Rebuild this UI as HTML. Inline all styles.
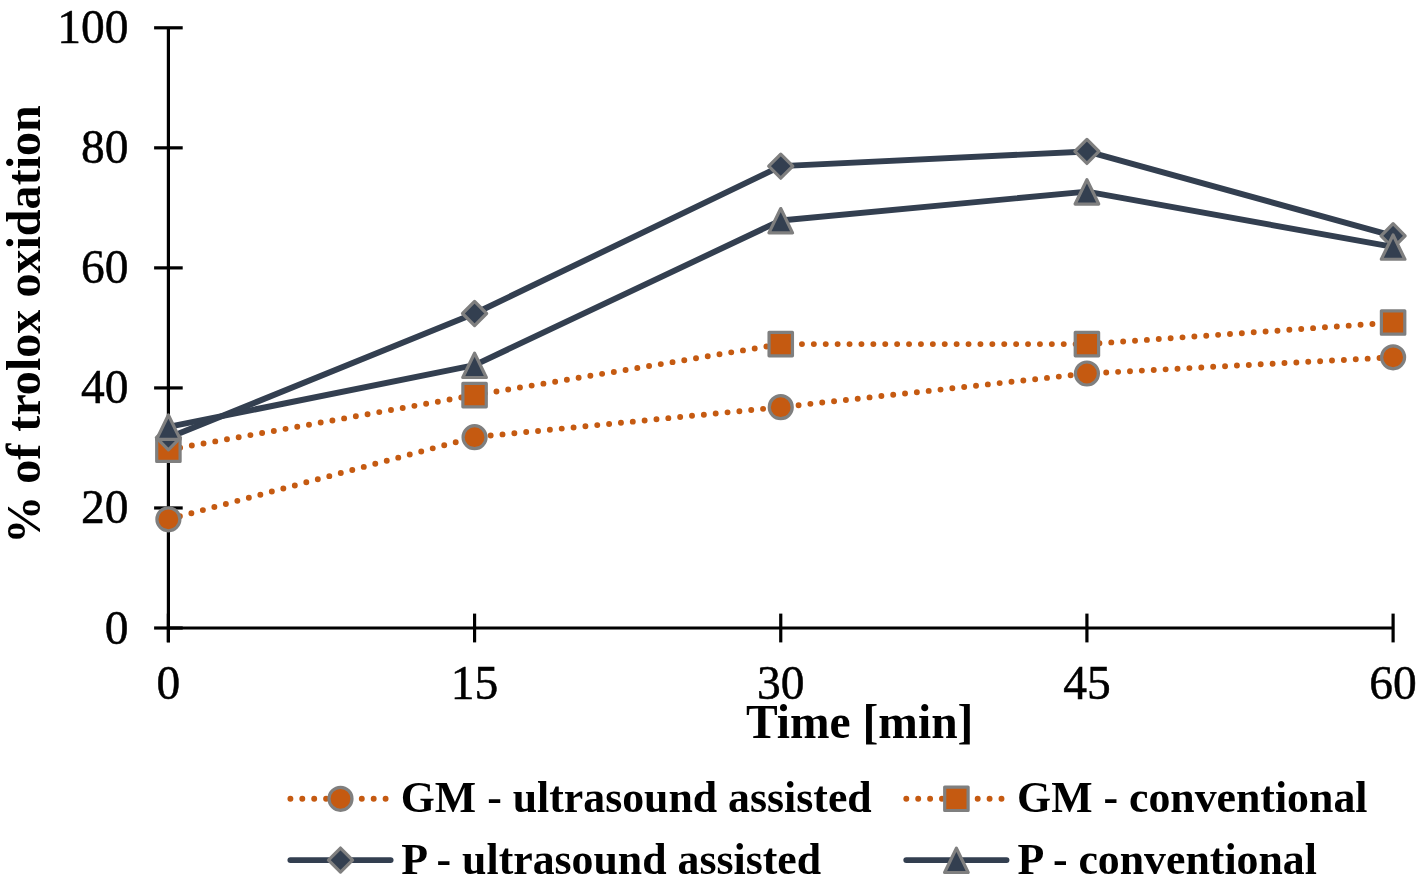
<!DOCTYPE html>
<html><head><meta charset="utf-8"><style>
html,body{margin:0;padding:0;background:#fff;}
body{width:1419px;height:887px;overflow:hidden;font-family:"Liberation Serif",serif;}
svg{display:block;will-change:transform;}
</style></head><body>
<svg width="1419" height="887" viewBox="0 0 1419 887">
<rect width="1419" height="887" fill="#fff"/>
<g stroke="#000" stroke-width="3.2" fill="none">
<line x1="168.40" y1="27.80" x2="168.40" y2="642.30"/>
<line x1="168.40" y1="628.00" x2="1393.10" y2="628.00"/>
<line x1="154.10" y1="628.00" x2="182.70" y2="628.00"/>
<line x1="154.10" y1="507.96" x2="182.70" y2="507.96"/>
<line x1="154.10" y1="387.92" x2="182.70" y2="387.92"/>
<line x1="154.10" y1="267.88" x2="182.70" y2="267.88"/>
<line x1="154.10" y1="147.84" x2="182.70" y2="147.84"/>
<line x1="154.10" y1="27.80" x2="182.70" y2="27.80"/>
<line x1="168.40" y1="613.60" x2="168.40" y2="642.40"/>
<line x1="474.57" y1="613.60" x2="474.57" y2="642.40"/>
<line x1="780.75" y1="613.60" x2="780.75" y2="642.40"/>
<line x1="1086.92" y1="613.60" x2="1086.92" y2="642.40"/>
<line x1="1393.10" y1="613.60" x2="1393.10" y2="642.40"/>
</g>
<g font-family="Liberation Serif" font-size="47.5" fill="#000">
<g stroke="#000" stroke-width="0.5">
<text x="128.5" y="643.50" text-anchor="end">0</text>
<text x="128.5" y="523.46" text-anchor="end">20</text>
<text x="128.5" y="403.42" text-anchor="end">40</text>
<text x="128.5" y="283.38" text-anchor="end">60</text>
<text x="128.5" y="163.34" text-anchor="end">80</text>
<text x="128.5" y="43.30" text-anchor="end">100</text>
<text x="168.40" y="699" text-anchor="middle">0</text>
<text x="474.57" y="699" text-anchor="middle">15</text>
<text x="780.75" y="699" text-anchor="middle">30</text>
<text x="1086.92" y="699" text-anchor="middle">45</text>
<text x="1393.10" y="699" text-anchor="middle">60</text>
</g>
<text x="746" y="738" font-weight="bold">Time [min]</text>
<text transform="translate(40,324.5) rotate(-90)" text-anchor="middle" font-weight="bold" font-size="48.1">% of trolox oxidation</text>
</g>
<polyline points="168.40,519.36 474.57,437.14 780.75,407.13 1086.92,373.52 1393.10,357.31" fill="none" stroke="#C55A11" stroke-width="5.93" stroke-linecap="round" stroke-dasharray="0 11.9"/>
<circle cx="168.40" cy="519.36" r="11.5" fill="#C55A11" stroke="#7F7F7F" stroke-width="3.2"/>
<circle cx="474.57" cy="437.14" r="11.5" fill="#C55A11" stroke="#7F7F7F" stroke-width="3.2"/>
<circle cx="780.75" cy="407.13" r="11.5" fill="#C55A11" stroke="#7F7F7F" stroke-width="3.2"/>
<circle cx="1086.92" cy="373.52" r="11.5" fill="#C55A11" stroke="#7F7F7F" stroke-width="3.2"/>
<circle cx="1393.10" cy="357.31" r="11.5" fill="#C55A11" stroke="#7F7F7F" stroke-width="3.2"/>
<polyline points="168.40,449.74 474.57,395.12 780.75,344.11 1086.92,344.11 1393.10,322.50" fill="none" stroke="#C55A11" stroke-width="5.93" stroke-linecap="round" stroke-dasharray="0 11.9"/>
<rect x="156.70" y="438.04" width="23.4" height="23.4" fill="#C55A11" stroke="#7F7F7F" stroke-width="3.2" stroke-linejoin="round"/>
<rect x="462.87" y="383.42" width="23.4" height="23.4" fill="#C55A11" stroke="#7F7F7F" stroke-width="3.2" stroke-linejoin="round"/>
<rect x="769.05" y="332.41" width="23.4" height="23.4" fill="#C55A11" stroke="#7F7F7F" stroke-width="3.2" stroke-linejoin="round"/>
<rect x="1075.22" y="332.41" width="23.4" height="23.4" fill="#C55A11" stroke="#7F7F7F" stroke-width="3.2" stroke-linejoin="round"/>
<rect x="1381.40" y="310.80" width="23.4" height="23.4" fill="#C55A11" stroke="#7F7F7F" stroke-width="3.2" stroke-linejoin="round"/>
<polyline points="168.40,437.74 474.57,313.50 780.75,166.15 1086.92,151.44 1393.10,235.77" fill="none" stroke="#333F50" stroke-width="5.93" stroke-linecap="round" stroke-linejoin="round"/>
<path d="M168.40 425.69L180.45 437.74L168.40 449.79L156.35 437.74Z" fill="#333F50" stroke="#7F7F7F" stroke-width="3.2" stroke-linejoin="round"/>
<path d="M474.57 301.45L486.62 313.50L474.57 325.55L462.52 313.50Z" fill="#333F50" stroke="#7F7F7F" stroke-width="3.2" stroke-linejoin="round"/>
<path d="M780.75 154.10L792.80 166.15L780.75 178.20L768.70 166.15Z" fill="#333F50" stroke="#7F7F7F" stroke-width="3.2" stroke-linejoin="round"/>
<path d="M1086.92 139.39L1098.97 151.44L1086.92 163.49L1074.88 151.44Z" fill="#333F50" stroke="#7F7F7F" stroke-width="3.2" stroke-linejoin="round"/>
<path d="M1393.10 223.72L1405.15 235.77L1393.10 247.82L1381.05 235.77Z" fill="#333F50" stroke="#7F7F7F" stroke-width="3.2" stroke-linejoin="round"/>
<polyline points="168.40,426.93 474.57,365.11 780.75,220.46 1086.92,191.65 1393.10,246.87" fill="none" stroke="#333F50" stroke-width="5.93" stroke-linecap="round" stroke-linejoin="round"/>
<path d="M168.40 415.03L180.20 439.33L156.60 439.33Z" fill="#333F50" stroke="#7F7F7F" stroke-width="3.2" stroke-linejoin="round"/>
<path d="M474.57 353.21L486.37 377.51L462.77 377.51Z" fill="#333F50" stroke="#7F7F7F" stroke-width="3.2" stroke-linejoin="round"/>
<path d="M780.75 208.56L792.55 232.86L768.95 232.86Z" fill="#333F50" stroke="#7F7F7F" stroke-width="3.2" stroke-linejoin="round"/>
<path d="M1086.92 179.75L1098.72 204.05L1075.12 204.05Z" fill="#333F50" stroke="#7F7F7F" stroke-width="3.2" stroke-linejoin="round"/>
<path d="M1393.10 234.97L1404.90 259.27L1381.30 259.27Z" fill="#333F50" stroke="#7F7F7F" stroke-width="3.2" stroke-linejoin="round"/>
<line x1="290.40" y1="798.80" x2="390.60" y2="798.80" stroke="#C55A11" stroke-width="5.93" stroke-linecap="round" stroke-dasharray="0 11.9"/>
<circle cx="340.50" cy="798.80" r="11.5" fill="#C55A11" stroke="#7F7F7F" stroke-width="3.2"/>
<text x="400.8" y="812.1" font-family="Liberation Serif" font-weight="bold" font-size="43.8">GM - ultrasound assisted</text>
<line x1="906.30" y1="798.80" x2="1006.50" y2="798.80" stroke="#C55A11" stroke-width="5.93" stroke-linecap="round" stroke-dasharray="0 11.9"/>
<rect x="944.70" y="787.10" width="23.4" height="23.4" fill="#C55A11" stroke="#7F7F7F" stroke-width="3.2" stroke-linejoin="round"/>
<text x="1017.1" y="812.1" font-family="Liberation Serif" font-weight="bold" font-size="43.8">GM - conventional</text>
<line x1="290.40" y1="860.10" x2="390.60" y2="860.10" stroke="#333F50" stroke-width="5.93" stroke-linecap="round"/>
<path d="M340.50 848.05L352.55 860.10L340.50 872.15L328.45 860.10Z" fill="#333F50" stroke="#7F7F7F" stroke-width="3.2" stroke-linejoin="round"/>
<text x="401.3" y="873.6" font-family="Liberation Serif" font-weight="bold" font-size="43.8">P - ultrasound assisted</text>
<line x1="906.30" y1="860.10" x2="1006.50" y2="860.10" stroke="#333F50" stroke-width="5.93" stroke-linecap="round"/>
<path d="M956.40 848.20L968.20 872.50L944.60 872.50Z" fill="#333F50" stroke="#7F7F7F" stroke-width="3.2" stroke-linejoin="round"/>
<text x="1017.6" y="873.6" font-family="Liberation Serif" font-weight="bold" font-size="43.8">P - conventional</text>
</svg>
</body></html>
